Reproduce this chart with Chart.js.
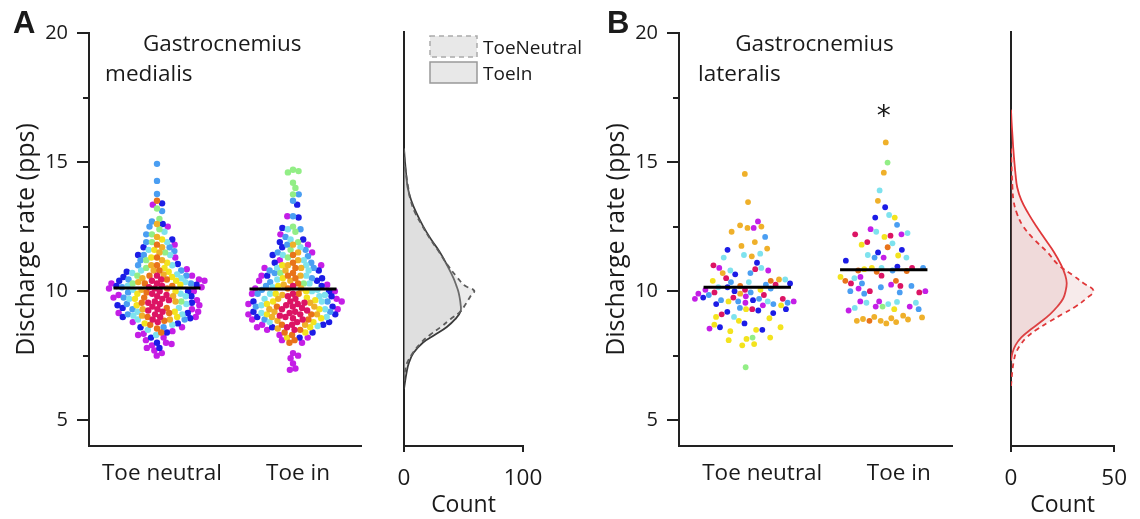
<!DOCTYPE html>
<html lang="en">
<head>
<meta charset="UTF-8">
<title>Discharge rate</title>
<script src="https://cdn.jsdelivr.net/npm/chart.js@4.4.1/dist/chart.umd.min.js"></script>
<style>
  body { margin: 0; background: #fff; }
  #wrap { position: relative; width: 1140px; height: 519px; overflow: hidden; }
  #wrap canvas { position: absolute; top: 0; }
</style>
</head>
<body>
<div id="wrap">
  <canvas id="swarmA" width="380" height="519" style="left:0"></canvas>
  <canvas id="densA" width="230" height="519" style="left:380px"></canvas>
  <canvas id="swarmB" width="380" height="519" style="left:590px"></canvas>
  <canvas id="densB" width="153" height="519" style="left:987px"></canvas>
</div>
<script>
// ---- data ----
const categories = ['Toe neutral', 'Toe in'];
const seriesNames = ['ToeNeutral', 'ToeIn'];
const yTicksMajor = [5, 10, 15, 20];
const yTicksMinor = [7.5, 12.5, 17.5];
const gmCountTicks = [0, 100];
const glCountTicks = [0, 50];

// one colour per motor-unit group (crimson, orange, gold, yellow, green, cyan, sky, blue, violet)
const unitColors = ['#dc1464', '#e8731a', '#efb02a', '#f3e31e', '#92ee86', '#7ee2ee', '#4a9ef2', '#1c1ce6', '#c41ee6'];

// Gastrocnemius medialis, discharge rates (pps) per colour group
const gmNeutral = [
  [10.6, 10.45, 10.3, 10.2, 10.1, 10.0, 9.9, 9.8, 9.7, 9.6, 9.5, 9.4, 9.3, 9.2, 9.1, 9.0, 8.9, 10.4, 10.15, 9.85, 9.55, 9.25, 9.65, 8.8],
  [13.5, 11.8, 11.3, 11.0, 10.8, 10.6, 10.45, 10.3, 10.1, 9.95, 9.75, 9.55, 9.35, 9.15, 9.0, 8.85, 8.7, 8.55, 8.4, 10.2],
  [12.6, 12.1, 11.7, 11.5, 11.2, 11.0, 10.8, 10.65, 10.5, 10.35, 10.05, 9.8, 9.6, 9.3, 9.05, 8.9],
  [12.0, 11.6, 11.3, 11.1, 10.9, 10.75, 10.55, 10.4, 10.25, 9.9, 9.7, 9.45, 9.2, 9.0, 8.75, 10.0],
  [13.2, 12.8, 12.4, 12.2, 11.9, 11.5, 11.2, 10.9, 10.6, 10.3, 9.6],
  [12.3, 11.9, 11.6, 11.4, 11.0, 10.8, 10.65, 10.5, 10.35, 10.2, 10.05, 9.9, 9.7, 9.5, 9.35, 9.2, 9.05, 8.9, 8.7, 8.5, 8.3, 10.7, 9.8, 9.1],
  [14.93, 14.27, 13.76, 13.1, 12.7, 12.5, 12.2, 11.9, 11.7, 11.4, 11.2, 11.0, 10.8, 10.6, 10.45, 10.3, 9.95, 9.75, 9.5, 9.3, 9.1, 8.9, 8.6, 11.55, 10.15],
  [13.4, 12.6, 12.0, 11.7, 11.4, 11.05, 10.75, 10.55, 10.4, 10.25, 10.0, 9.8, 9.55, 9.35, 9.15, 8.95, 8.75, 8.6, 8.4, 8.2, 8.0, 7.8, 9.45, 10.2, 9.0],
  [13.35, 12.5, 11.8, 11.3, 10.85, 10.6, 10.45, 10.3, 10.15, 10.0, 9.85, 9.65, 9.45, 9.3, 9.15, 9.0, 8.8, 8.6, 8.45, 8.35, 8.2, 8.1, 8.0, 7.9, 7.8, 7.7, 7.6, 7.5, 7.95, 8.3, 10.1, 9.75, 10.4, 9.2]
];
const gmToeIn = [
  [10.2, 9.9, 9.7, 9.6, 9.5, 9.45, 9.4, 9.35, 9.3, 9.2, 9.15, 9.1, 9.0, 8.95, 8.9, 8.8, 8.7, 8.6, 9.55, 9.25, 9.05, 8.5, 9.8],
  [11.4, 11.1, 10.9, 10.7, 10.5, 10.3, 10.1, 9.9, 9.4, 9.1, 8.9, 8.7, 8.5, 8.3, 8.1, 8.4, 10.6, 8.0],
  [11.8, 11.5, 11.2, 11.0, 10.8, 10.6, 10.4, 10.25, 10.1, 9.85, 9.7, 9.55, 9.4, 9.2, 9.0, 8.85, 8.7, 8.55, 10.9, 9.3, 9.1],
  [11.0, 10.5, 10.0, 9.9, 9.75, 9.6, 9.5, 9.3, 9.1, 8.95, 8.8, 8.6, 8.4, 8.2, 9.65, 10.2],
  [14.7, 14.65, 14.6, 14.2, 14.0, 13.75, 12.5, 12.3, 11.9, 11.6, 11.3, 10.7, 10.3],
  [12.4, 12.0, 11.7, 11.4, 11.2, 11.0, 10.8, 10.6, 10.45, 10.3, 10.15, 10.0, 9.9, 9.8, 9.7, 9.6, 9.45, 9.3, 9.15, 9.0, 8.8, 10.9, 10.05, 9.85, 8.65],
  [13.75, 13.5, 12.9, 12.4, 12.1, 11.8, 11.6, 11.35, 11.1, 10.9, 10.7, 10.5, 10.35, 10.2, 10.05, 9.9, 9.6, 9.4, 9.2, 8.9, 11.5, 10.8],
  [13.35, 12.85, 12.45, 12.0, 11.7, 11.4, 11.1, 10.8, 10.6, 10.4, 10.2, 10.0, 9.8, 9.6, 9.4, 9.2, 9.0, 8.8, 8.6, 8.4, 8.2, 11.9, 9.1, 8.7, 10.5],
  [12.9, 12.2, 11.8, 11.5, 11.2, 10.9, 10.6, 10.4, 10.25, 10.1, 9.9, 9.7, 9.5, 9.3, 9.1, 8.9, 8.7, 8.5, 8.3, 8.1, 8.0, 7.6, 7.5, 7.4, 7.2, 7.0, 6.95, 9.6, 8.6, 11.0, 10.0, 8.2]
];

// Gastrocnemius lateralis
const glNeutral = [
  [11.0, 10.85, 10.5, 10.25, 10.05, 9.95, 9.85, 9.75, 9.7, 9.3, 9.1],
  [10.4, 10.2],
  [14.54, 13.45, 12.55, 12.5, 12.45, 12.3, 11.9, 11.75, 11.65, 11.35, 10.7, 10.45, 9.9],
  [10.4, 10.05, 9.6, 9.45, 9.3, 9.0, 8.95, 8.85, 8.7, 8.5, 8.45, 8.2, 8.15, 8.1, 7.95, 7.9, 8.6],
  [8.2, 7.05],
  [11.45, 11.4, 11.3, 10.9, 10.8, 10.45, 10.35, 10.15, 9.6, 9.0],
  [12.1, 10.7, 10.35, 10.25, 9.95, 9.85, 9.7, 9.6, 9.55, 9.5, 9.65, 10.1, 9.35],
  [11.6, 11.1, 10.65, 10.3, 10.0, 9.75, 9.65, 9.5, 9.3, 9.25, 9.2, 9.15, 8.75, 8.6, 8.5, 10.15],
  [12.7, 12.45, 10.9, 10.8, 10.05, 9.9, 9.8, 9.7, 9.6, 9.55, 8.55, 9.45]
];
const glToeIn = [
  [12.2, 12.15, 11.9, 10.9, 10.6, 10.3, 10.2, 10.0, 9.95],
  [11.7, 10.8, 10.78, 10.75, 10.4, 10.4, 8.85],
  [15.76, 14.59, 13.5, 9.05, 9.0, 8.98, 8.95, 8.92, 8.9, 8.85, 8.85, 8.8, 8.75],
  [12.85, 12.1, 11.8, 11.38, 10.9, 10.55, 9.3, 10.85],
  [14.98, 9.4],
  [13.9, 12.95, 12.3, 12.25, 11.85, 11.4, 11.3, 10.9, 10.5, 9.58, 9.55, 9.55, 9.5, 9.35],
  [12.57, 11.3, 10.9, 10.8, 10.3, 10.2, 10.15, 10.0, 9.95, 9.9, 9.3],
  [13.25, 12.85, 11.6, 11.5, 11.18, 10.95],
  [12.4, 12.2, 11.3, 10.55, 10.25, 10.1, 10.0, 9.6, 9.6, 9.4, 9.4, 9.25]
];

const meansGM = [10.12, 10.08];
const meansGL = [10.15, 10.83];

// density curves (count) sampled at discharge rates
const gmDensityY = [15.5, 15.0, 14.5, 14.0, 13.5, 13.0, 12.5, 12.0, 11.5, 11.0, 10.5, 10.2, 10.0, 9.8, 9.5, 9.2, 8.9, 8.6, 8.3, 8.0, 7.6, 7.2, 6.8, 6.4, 6.2];
const gmNeutralCount = [0, 0.5, 1.8, 3.5, 5.5, 9.5, 15.5, 22, 29.5, 36.5, 45, 51, 59, 56, 52, 47.5, 39, 31, 22, 14.5, 7.5, 2.5, 0.6, 0, null];
const gmToeInCount = [0, 0.8, 1.8, 3, 6, 10.5, 16, 22.5, 30, 36, 41.5, 44, 45.5, 46.5, 47.5, 47.5, 43, 36, 26, 16, 8, 4, 2, 0.6, 0];

const glDensityY = [17.0, 16.5, 16.0, 15.5, 15.0, 14.5, 14.0, 13.5, 13.0, 12.5, 12.0, 11.5, 11.0, 10.6, 10.3, 10.0, 9.7, 9.4, 9.1, 8.8, 8.5, 8.2, 7.9, 7.6, 7.3, 7.0, 6.6, 6.3];
const glNeutralCount = [null, null, null, 0, 0.2, 0.4, 0.7, 1.2, 2.8, 5.8, 11, 17.5, 23, 30, 35, 40, 36.5, 31.5, 25, 18.5, 12.5, 7.6, 4.5, 2.4, 1.4, 0.8, 0.3, 0];
const glToeInCount = [0, 0.3, 0.7, 1.1, 1.6, 2.2, 3, 5, 8.3, 12.2, 16.5, 20.8, 24.3, 26.3, 27, 26.5, 25.3, 22.6, 19, 14.5, 9.5, 5, 2.2, 0.7, 0, null, null, null];

// ---- style ----
const FONT = 'Open Sans';
const INK = '#1a1a1a';
const AXIS = '#222';
const meanHalfWidth = 0.32;

// beeswarm: each point goes to the free x offset (px) nearest its target
function swarm(pys, d, targets) {
  const placed = [];
  return pys.map((py, i) => {
    const t = targets ? targets[i] : 0;
    const cands = [t];
    placed.forEach(p => {
      const dy = Math.abs(p.y - py);
      if (dy < d) {
        const dx = Math.sqrt(d * d - dy * dy);
        cands.push(p.x + dx, p.x - dx);
      }
    });
    cands.sort((a, b) => Math.abs(a - t) - Math.abs(b - t));
    let best = t;
    for (const c of cands) {
      if (placed.every(p => (p.x - c) ** 2 + (p.y - py) ** 2 >= d * d - 0.01)) { best = c; break; }
    }
    placed.push({ x: best, y: py });
    return best;
  });
}

// spread targets: width grows with the number of neighbours, position from golden-ratio steps
function spreadTargets(pys, band, k, maxW) {
  return pys.map((py, i) => {
    const n = pys.filter(q => Math.abs(q - py) < band).length;
    const w = Math.min(maxW, n * k);
    const u = ((i * 0.618034) % 1) * 2 - 1;
    return w * u;
  });
}

const textPlugin = {
  id: 'panelText',
  afterDraw(chart, args, opts) {
    const { ctx, scales } = chart;
    (opts.items || []).forEach(t => {
      ctx.save();
      ctx.font = t.font;
      ctx.fillStyle = INK;
      ctx.textAlign = t.align || 'left';
      ctx.textBaseline = 'alphabetic';
      const px = t.px !== undefined ? t.px : scales.x.getPixelForValue(t.x);
      const py = t.py !== undefined ? t.py : scales.y.getPixelForValue(t.y);
      ctx.fillText(t.text, px, py);
      ctx.restore();
    });
  }
};

const yTickPlugin = {
  id: 'yTickMarks',
  afterDraw(chart) {
    const { ctx, chartArea, scales: { y } } = chart;
    ctx.save();
    ctx.strokeStyle = AXIS;
    ctx.lineWidth = 2;
    const mark = (v, len) => {
      const py = Math.round(y.getPixelForValue(v));
      ctx.beginPath();
      ctx.moveTo(chartArea.left - len, py);
      ctx.lineTo(chartArea.left, py);
      ctx.stroke();
    };
    yTicksMajor.forEach(v => mark(v, 12));
    yTicksMinor.forEach(v => mark(v, 6));
    ctx.restore();
  }
};

function makeSwarm(id, groups, means, opt) {
  const datasets = [];
  groups.forEach((g, gi) => {
    g.forEach((vals, ci) => {
      datasets.push({
        data: vals.map(v => ({ x: gi + 1, y: v })),
        backgroundColor: unitColors[ci],
        pointRadius: opt.r,
        pointBorderWidth: 0,
        pointHoverRadius: opt.r,
        group: gi
      });
    });
  });
  means.forEach((m, gi) => {
    datasets.push({
      type: 'line',
      data: [{ x: gi + 1 - meanHalfWidth, y: m }, { x: gi + 1 + meanHalfWidth, y: m }],
      borderColor: '#000',
      borderWidth: 3,
      pointRadius: 0,
      order: -1
    });
  });

  const chart = new Chart(document.getElementById(id), {
    type: 'scatter',
    data: { datasets },
    plugins: [textPlugin, yTickPlugin],
    options: {
      responsive: false,
      animation: false,
      layout: { padding: { top: 32, right: opt.padRight } },
      plugins: {
        legend: { display: false },
        tooltip: { enabled: false },
        panelText: { items: opt.texts }
      },
      scales: {
        x: {
          type: 'linear', min: 0.5, max: 2.5,
          afterBuildTicks: s => { s.ticks = categories.map((c, i) => ({ value: i + 1 })); },
          afterFit: s => { s.height = 73; },
          grid: { display: false, drawTicks: false },
          border: { display: true, color: AXIS, width: 2 },
          ticks: {
            autoSkip: false, maxRotation: 0, padding: 14, labelOffset: opt.labelOffset,
            color: INK, font: { family: FONT, size: 22.5 },
            callback: v => categories[Math.round(v) - 1]
          }
        },
        y: {
          min: 4, max: 20,
          afterBuildTicks: s => { s.ticks = yTicksMajor.map(v => ({ value: v })); },
          afterFit: s => { s.width = 89; },
          grid: { display: false, drawTicks: false },
          border: { display: true, color: AXIS, width: 2 },
          ticks: { padding: 21, color: INK, font: { family: FONT, size: 20 } },
          title: {
            display: true, text: 'Discharge rate (pps)', color: INK,
            font: { family: FONT, size: 25 }, padding: { top: 12, bottom: 0 }
          }
        }
      }
    }
  });

  // spread the points of each category sideways with the chart's own scales
  const xs = chart.scales.x, ys = chart.scales.y;
  const pxPerUnit = xs.getPixelForValue(1) - xs.getPixelForValue(0);
  groups.forEach((g, gi) => {
    const pts = [];
    datasets.filter(ds => ds.group === gi).forEach(ds => ds.data.forEach(p => pts.push(p)));
    const pys = pts.map(p => ys.getPixelForValue(p.y));
    const targets = opt.spread ? spreadTargets(pys, opt.spread.band, opt.spread.k, opt.spread.maxW) : null;
    const offs = swarm(pys, opt.d, targets);
    pts.forEach((p, i) => { p.x = gi + 1 + offs[i] / pxPerUnit; });
  });
  chart.update('none');
  return chart;
}

function makeDensity(id, yVals, neutral, toeIn, ticks, opt) {
  const toPts = arr => yVals.map((v, i) => ({ x: arr[i], y: v })).filter(p => p.x !== null);
  const datasets = [
    {
      label: seriesNames[0], data: toPts(neutral), borderColor: opt.dashLine, borderDash: [5, 4],
      borderWidth: 1.8, backgroundColor: opt.fill, fill: 'shape', tension: 0.4, pointRadius: 0
    },
    {
      label: seriesNames[1], data: toPts(toeIn), borderColor: opt.solidLine,
      borderWidth: 1.8, backgroundColor: opt.fill, fill: 'shape', tension: 0.4, pointRadius: 0
    }
  ];
  const legendPlugin = {
    id: 'boxLegend',
    afterDraw(chart) {
      if (!opt.legend) return;
      const { ctx, chartArea } = chart;
      const x0 = chartArea.left + 26;
      const rows = [{ y: 36, dash: [5, 4], stroke: '#aaa' }, { y: 62, dash: [], stroke: '#999' }];
      rows.forEach((r, i) => {
        ctx.save();
        ctx.fillStyle = '#e8e8e8';
        ctx.fillRect(x0, r.y, 47, 21);
        ctx.setLineDash(r.dash);
        ctx.strokeStyle = r.stroke;
        ctx.lineWidth = 1.5;
        ctx.strokeRect(x0, r.y, 47, 21);
        ctx.setLineDash([]);
        ctx.fillStyle = INK;
        ctx.font = '19px "' + FONT + '"';
        ctx.textBaseline = 'alphabetic';
        ctx.fillText(seriesNames[i], x0 + 53, r.y + 18);
        ctx.restore();
      });
    }
  };
  return new Chart(document.getElementById(id), {
    type: 'line',
    data: { datasets },
    plugins: [legendPlugin],
    options: {
      responsive: false,
      animation: false,
      layout: { padding: { top: 32, right: opt.padRight } },
      plugins: { legend: { display: false }, tooltip: { enabled: false } },
      scales: {
        x: {
          type: 'linear', min: ticks[0], max: ticks[ticks.length - 1],
          afterBuildTicks: s => { s.ticks = ticks.map(v => ({ value: v })); },
          afterFit: s => { s.height = 73; },
          grid: { display: true, drawOnChartArea: false, drawTicks: true, tickLength: 6, color: AXIS, lineWidth: 2 },
          border: { display: true, color: AXIS, width: 2 },
          ticks: { autoSkip: false, maxRotation: 0, padding: 13, color: INK, font: { family: FONT, size: 22.5 } },
          title: { display: true, text: 'Count', color: INK, font: { family: FONT, size: 23 }, padding: { top: 0, bottom: 0 } }
        },
        y: {
          min: 4, max: 20,
          afterFit: s => { s.width = 24; },
          grid: { display: false, drawTicks: false },
          border: { display: true, color: AXIS, width: 2 },
          ticks: { display: false }
        }
      }
    }
  });
}

makeSwarm('swarmA', [gmNeutral, gmToeIn], meansGM, {
  r: 3.2, d: 5.7, padRight: 19, labelOffset: 5,
  texts: [
    { text: 'A', px: 13, py: 33, font: 'bold 31px "Liberation Sans"' },
    { text: 'Gastrocnemius', x: 0.897, y: 19.3, font: '22.5px "' + FONT + '"' },
    { text: 'medialis', x: 0.618, y: 18.15, font: '22.5px "' + FONT + '"' }
  ]
});
makeDensity('densA', gmDensityY, gmNeutralCount, gmToeInCount, gmCountTicks, {
  padRight: 87, legend: true, dashLine: '#5c5c5c', solidLine: '#3a3a3a', fill: 'rgba(200,200,200,0.35)'
});
makeSwarm('swarmB', [glNeutral, glToeIn], meansGL, {
  r: 2.9, d: 6.2, padRight: 18, labelOffset: 15,
  spread: { band: 11, k: 2.6, maxW: 40 },
  texts: [
    { text: 'B', px: 17, py: 33, font: 'bold 31px "Liberation Sans"' },
    { text: 'Gastrocnemius', x: 0.912, y: 19.3, font: '22.5px "' + FONT + '"' },
    { text: 'lateralis', x: 0.64, y: 18.15, font: '22.5px "' + FONT + '"' },
    { text: '*', x: 2, y: 16.45, align: 'center', font: '28px "DejaVu Sans"' }
  ]
});
makeDensity('densB', glDensityY, glNeutralCount, glToeInCount, glCountTicks, {
  padRight: 11, legend: false, dashLine: '#e0383a', solidLine: '#e0383a', fill: 'rgba(200,120,120,0.15)'
});
</script>
</body>
</html>
